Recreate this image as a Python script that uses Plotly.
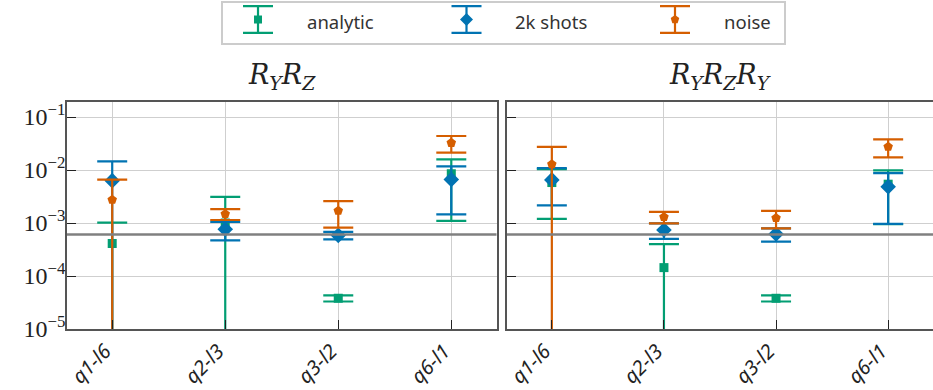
import plotly.graph_objects as go

categories = ["q1-l6", "q2-l3", "q3-l2", "q6-l1"]
panel_titles = ["<i>R</i><sub><i>Y</i></sub><i>R</i><sub><i>Z</i></sub>",
                "<i>R</i><sub><i>Y</i></sub><i>R</i><sub><i>Z</i></sub><i>R</i><sub><i>Y</i></sub>"]
series_names = ["analytic", "2k shots", "noise"]
ytick_vals = [1e-5, 1e-4, 1e-3, 1e-2, 1e-1]
ytick_text = ["10<sup>\u22125</sup>", "10<sup>\u22124</sup>", "10<sup>\u22123</sup>",
              "10<sup>\u22122</sup>", "10<sup>\u22121</sup>"]

# panel 1: R_Y R_Z
p1_analytic = [4.1e-4, 1.0e-3, 3.8e-5, 8.5e-3]
p1_analytic_err = [6.1e-4, 2.1e-3, 5.0e-6, 7.4e-3]
p1_shots = [6.3e-3, 7.6e-4, 5.85e-4, 6.6e-3]
p1_shots_err = [8.3e-3, 2.9e-4, 0.95e-4, 5.15e-3]
p1_noise = [2.74e-3, 1.48e-3, 1.7e-3, 3.25e-2]
p1_noise_err = [3.86e-3, 3.4e-4, 8.8e-4, 1.13e-2]

# panel 2: R_Y R_Z R_Y
p2_analytic = [5.8e-3, 1.44e-4, 3.8e-5, 5.4e-3]
p2_analytic_err = [4.6e-3, 2.56e-4, 5.0e-6, 4.45e-3]
p2_shots = [6.5e-3, 7.4e-4, 6.2e-4, 4.83e-3]
p2_shots_err = [4.35e-3, 2.4e-4, 1.75e-4, 3.87e-3]
p2_noise = [1.28e-2, 1.30e-3, 1.24e-3, 2.75e-2]
p2_noise_err = [1.45e-2, 3.2e-4, 4.5e-4, 1.02e-2]

threshold = 6.1e-4

colors = ["#029e73", "#0173b2", "#d55e00"]
symbols = ["square", "diamond", "pentagon"]
sizes = [9, 12, 10]
legend_sizes = [8, 10, 9]

panels = [
    [(p1_analytic, p1_analytic_err), (p1_shots, p1_shots_err), (p1_noise, p1_noise_err)],
    [(p2_analytic, p2_analytic_err), (p2_shots, p2_shots_err), (p2_noise, p2_noise_err)],
]

W, H = 933, 390
fig = go.Figure()

axis_suffix = ["", "2"]
for pi, panel in enumerate(panels):
    for si, (vals, errs) in enumerate(panel):
        fig.add_trace(go.Scatter(
            x=list(range(len(categories))), y=vals,
            mode="markers", name=series_names[si], showlegend=False,
            xaxis="x" + axis_suffix[pi], yaxis="y" + axis_suffix[pi],
            marker=dict(symbol=symbols[si], size=sizes[si], color=colors[si]),
            error_y=dict(type="data", array=errs, symmetric=True,
                         color=colors[si], thickness=2.2, width=15),
        ))
    fig.add_shape(type="line", xref="x%s domain" % axis_suffix[pi], yref="y" + axis_suffix[pi],
                  x0=0, x1=1, y0=threshold, y1=threshold,
                  line=dict(color="#808080", width=2.5), layer="above")

# manual legend drawn in its own small axis (glyph = marker + error bar)
legend_x = list(range(len(series_names)))
for si in range(3):
    fig.add_trace(go.Scatter(
        x=[legend_x[si]], y=[0.583], mode="markers", showlegend=False,
        xaxis="x3", yaxis="y3", hoverinfo="skip",
        marker=dict(symbol=symbols[si], size=legend_sizes[si], color=colors[si]),
        error_y=dict(type="constant", value=0.32, color=colors[si], thickness=2.2, width=15),
    ))
    fig.add_annotation(text=series_names[si], xref="x3", yref="y3",
                       x=legend_x[si] + 0.225, y=0.54, xanchor="left", yanchor="middle",
                       showarrow=False, font=dict(family="Noto Sans", size=18.5, color="#333"))

fig.add_shape(type="rect", xref="paper", yref="paper",
              x0=222 / W, x1=785 / W, y0=1 - 44 / H, y1=1 - 2 / H,
              line=dict(color="#cccccc", width=2), fillcolor="rgba(0,0,0,0)", layer="below")

fig.update_layout(
    width=W, height=H,
    margin=dict(l=0, r=0, t=0, b=0, autoexpand=False),
    paper_bgcolor="white", plot_bgcolor="white",
    font=dict(family="Liberation Serif", color="#222"),
    showlegend=False,
)

axis_common = dict(showline=True, linecolor="#555", linewidth=1.5, mirror=True,
                   showgrid=True, gridcolor="#cfcfcf", gridwidth=1,
                   ticks="inside", ticklen=9, tickcolor="#222", zeroline=False,
                   automargin=False)

xdomains = [[67 / W, 496.5 / W], [507 / W, 1.0]]
ydomain = [1 - 329 / H, 1 - 102 / H]
for i in range(2):
    fig.layout["xaxis" + axis_suffix[i]] = dict(
        range=[-0.4, 3.4], domain=xdomains[i], anchor="y" + axis_suffix[i],
        tickmode="array", tickvals=list(range(len(categories))),
        ticktext=["<i>%s</i>" % c for c in categories],
        tickangle=-45, ticklabelshift=-7, ticklabelstandoff=1,
        tickfont=dict(family="Noto Sans", size=20, color="#222"),
        **axis_common)
    fig.layout["yaxis" + axis_suffix[i]] = dict(
        type="log", range=[-5, -0.717], domain=ydomain, anchor="x" + axis_suffix[i],
        tickmode="array", tickvals=ytick_vals, ticktext=ytick_text,
        showticklabels=(i == 0), ticklabelstandoff=-5,
        tickfont=dict(family="Liberation Serif", size=24, color="#222"),
        **axis_common)
    if i == 1:
        fig.layout.yaxis2.matches = "y"

# legend axis
fig.layout.xaxis3 = dict(domain=[222 / W, 785 / W], range=[-0.1727, 2.5276], anchor="y3",
                         visible=False, fixedrange=True)
fig.layout.yaxis3 = dict(domain=[1 - 44 / H, 1 - 2 / H], range=[0, 1], anchor="x3",
                         visible=False, fixedrange=True)

for i, t in enumerate(panel_titles):
    fig.add_annotation(text=t, xref="x%s domain" % axis_suffix[i], yref="paper",
                       x=0.5, y=1 - 96 / H, xanchor="center", yanchor="bottom",
                       showarrow=False, font=dict(family="DejaVu Serif", size=27, color="#222"))

fig.write_html("out.html", config={"displayModeBar": False},
               post_script="document.body.style.margin='0px';")
